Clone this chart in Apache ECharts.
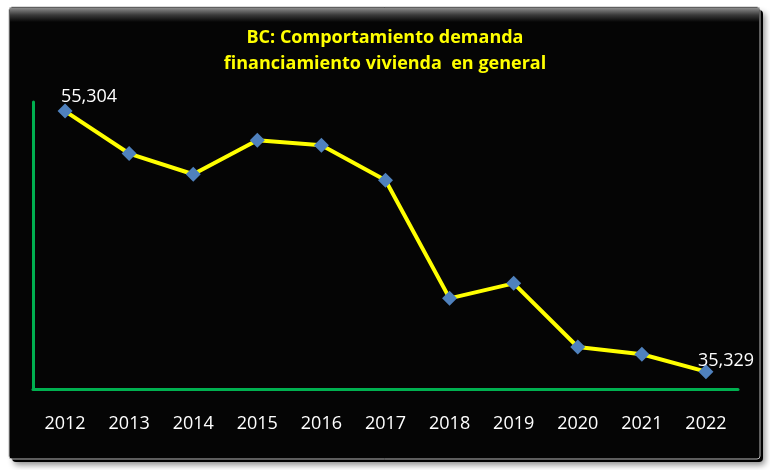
<!DOCTYPE html>
<html>
<head>
<meta charset="utf-8">
<script src="https://cdn.jsdelivr.net/npm/echarts@6/dist/echarts.min.js"></script>
<style>html,body{margin:0;padding:0;background:#fff;}#c{width:770px;height:470px;}</style>
</head>
<body>
<div id="c"></div>
<script>
var years = ['2012','2013','2014','2015','2016','2017','2018','2019','2020','2021','2022'];
var demanda = [55304, 52050, 50460, 53070, 52690, 50000, 40950, 42100, 37220, 36660, 35329];
var yMin = 34000, yMax = 56000;

var chart = echarts.init(document.getElementById('c'), null, {renderer: 'canvas'});
var seriesData = demanda.map(function (v, i) {
  var d = {value: v};
  if (i === 0) d.label = {show: true, offset: [24, 7]};
  if (i === demanda.length - 1) d.label = {show: true, offset: [20, 11]};
  return d;
});
chart.setOption({
  backgroundColor: '#ffffff',
  graphic: [
    {type: 'rect', z: -10, shape: {x: 12, y: 10, width: 751, height: 452, r: 4},
     style: {fill: '#000', shadowBlur: 6, shadowColor: 'rgba(0,0,0,0.45)', shadowOffsetX: 2, shadowOffsetY: 3}},
    {type: 'rect', z: -9, shape: {x: 9, y: 7, width: 751, height: 452, r: 3},
     style: {fill: '#050505', stroke: '#b8b8b8', lineWidth: 1}},
    {type: 'rect', z: -8, shape: {x: 10, y: 8, width: 749, height: 14},
     style: {fill: {type: 'linear', x: 0, y: 0, x2: 0, y2: 1,
       colorStops: [{offset: 0, color: '#8a8a8a'}, {offset: 0.5, color: '#3a3a3a'}, {offset: 1, color: '#050505'}]}}}
  ],
  title: {
    text: 'BC: Comportamiento demanda\nfinanciamiento vivienda  en general',
    left: 'center', top: 20,
    textStyle: {color: '#FFFF00', fontFamily: 'Open Sans', fontWeight: 'bold', fontSize: 18, lineHeight: 26}
  },
  grid: {left: 33, right: 32, top: 102, bottom: 81},
  xAxis: {
    type: 'category', data: years, boundaryGap: true,
    axisLine: {show: true, lineStyle: {color: '#00B050', width: 3}},
    axisTick: {show: false},
    axisLabel: {color: '#ffffff', fontFamily: 'Open Sans', fontSize: 18, margin: 26}
  },
  yAxis: {
    type: 'value', min: yMin, max: yMax,
    axisLine: {show: true, lineStyle: {color: '#00B050', width: 3}},
    axisTick: {show: false}, axisLabel: {show: false}, splitLine: {show: false}
  },
  series: [{
    type: 'line', data: seriesData,
    lineStyle: {color: '#FFFF00', width: 4},
    symbol: 'diamond', symbolSize: 15,
    itemStyle: {color: '#4F81BD'},
    label: {show: false, position: 'top', color: '#ffffff', fontFamily: 'Open Sans', fontSize: 18,
      formatter: function (p) { return p.value.toLocaleString('en-US'); }},
    animation: false
  }],
  animation: false
});
</script>
</body>
</html>
